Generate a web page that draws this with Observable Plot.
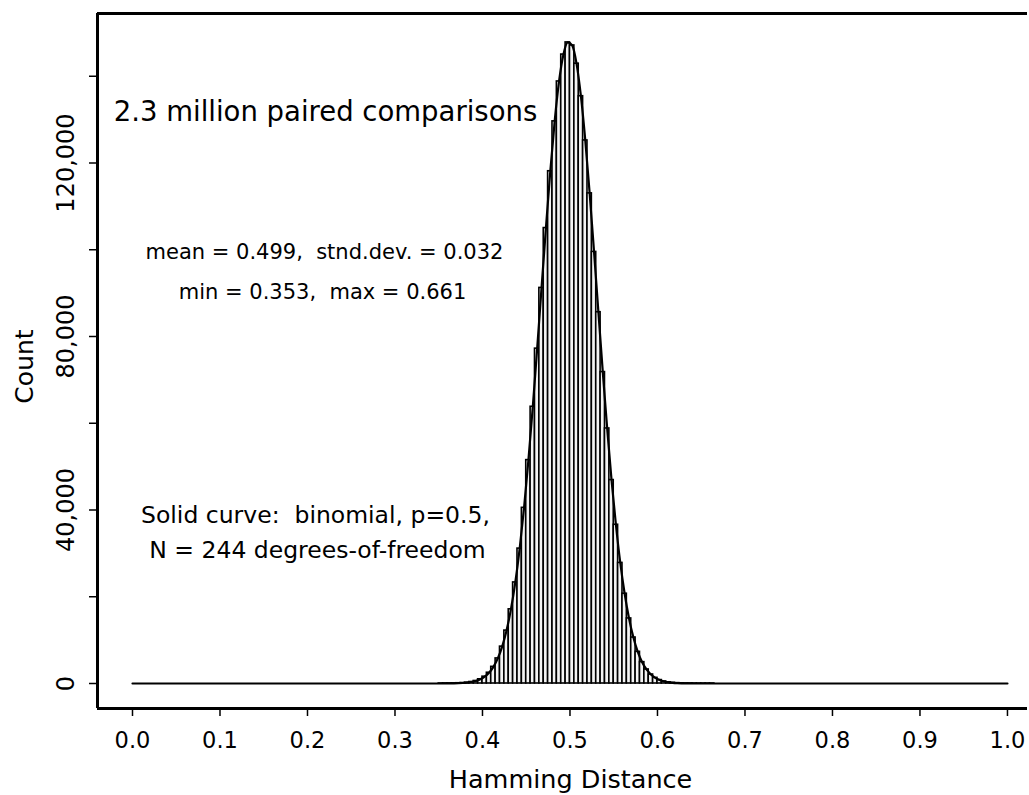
<!DOCTYPE html>
<html>
<head>
<meta charset="utf-8">
<script src="https://cdn.jsdelivr.net/npm/d3@7"></script>
<script src="https://cdn.jsdelivr.net/npm/@observablehq/plot@0.6"></script>
<style>
  html, body { margin: 0; padding: 0; background: #fff; }
  #chart svg { display: block; }
</style>
</head>
<body>
<div id="chart"></div>
<script>
// ---- data ----
const binWidth = 0.005;
const binStart = [
  0.350, 0.355, 0.360, 0.365, 0.370, 0.375, 0.380, 0.385, 0.390, 0.395,
  0.400, 0.405, 0.410, 0.415, 0.420, 0.425, 0.430, 0.435, 0.440, 0.445,
  0.450, 0.455, 0.460, 0.465, 0.470, 0.475, 0.480, 0.485, 0.490, 0.495,
  0.500, 0.505, 0.510, 0.515, 0.520, 0.525, 0.530, 0.535, 0.540, 0.545,
  0.550, 0.555, 0.560, 0.565, 0.570, 0.575, 0.580, 0.585, 0.590, 0.595,
  0.600, 0.605, 0.610, 0.615, 0.620, 0.625, 0.630, 0.635, 0.640, 0.645,
  0.650, 0.655, 0.660
];
const binCount = [
  4, 8, 17, 32, 60, 110, 196, 342, 582, 968,
  1570, 2480, 3840, 5780, 8500, 12200, 17100, 23300, 31100, 40500,
  51500, 63800, 77200, 91200, 105000, 118100, 129600, 138800, 145000, 147800,
  147100, 142900, 135400, 125200, 113000, 99500, 85600, 71800, 58800, 46900,
  36600, 27800, 20700, 15000, 10600, 7300, 4920, 3230, 2070, 1300,
  790, 470, 275, 156, 86, 45, 23, 11, 5, 2,
  1, 1, 1
];
// solid curve (binomial fit) runs along the whole axis from 0.0 to 1.0
const curveEndsX = [0.0, 1.0];
const curveEndsY = [0, 0];

const xTicks = [0.0, 0.1, 0.2, 0.3, 0.4, 0.5, 0.6, 0.7, 0.8, 0.9, 1.0];
const xTickLabels = ["0.0", "0.1", "0.2", "0.3", "0.4", "0.5", "0.6", "0.7", "0.8", "0.9", "1.0"];
const yTicks = [0, 20000, 40000, 60000, 80000, 100000, 120000, 140000];
const yTickLabels = ["0", "", "40,000", "", "80,000", "", "120,000", ""];

const xTitle = "Hamming Distance";
const yTitle = "Count";
const noteTitle = "2.3 million paired comparisons";
const noteStats1 = "mean = 0.499,  stnd.dev. = 0.032";
const noteStats2 = "min = 0.353,  max = 0.661";
const noteFit1 = "Solid curve:  binomial, p=0.5,";
const noteFit2 = "N = 244 degrees-of-freedom";

// ---- tables built from the arrays ----
const bins = binStart.map((s, i) => ({x1: s, x2: s + binWidth, count: binCount[i]}));
const curve = [
  {x: curveEndsX[0], y: curveEndsY[0]},
  ...bins.map(b => ({x: (b.x1 + b.x2) / 2, y: b.count})),
  {x: curveEndsX[1], y: curveEndsY[1]}
];
const xLabelMap = new Map(xTicks.map((t, i) => [t, xTickLabels[i]]));
const yLabelMap = new Map(yTicks.map((t, i) => [t, yTickLabels[i]]));

const xDomain = [-0.04, 1.0229];
const yDomain = [-5764, 154467];

const chart = Plot.plot({
  width: 1029,
  height: 795,
  marginLeft: 97,
  marginRight: 2,
  marginTop: 13,
  marginBottom: 87,
  x: {domain: xDomain},
  y: {domain: yDomain},
  style: {fontFamily: "'DejaVu Sans', sans-serif", background: "#fff", color: "#000", overflow: "visible"},
  marks: [
    Plot.rectY(bins, {x1: "x1", x2: "x2", y: "count", fill: "#f4f4f4", stroke: "#000", strokeWidth: 1.6}),
    Plot.line(curve, {x: "x", y: "y", curve: "monotone-x", stroke: "#000", strokeWidth: 2.2}),
    Plot.ruleX([xDomain[0]], {stroke: "#000", strokeWidth: 3}),
    Plot.ruleY([yDomain[0], yDomain[1]], {stroke: "#000", strokeWidth: 3}),
    Plot.axisX({ticks: xTicks, tickFormat: d => xLabelMap.get(d), tickSize: 8, tickPadding: 16,
      fontSize: 22.5, label: null, strokeWidth: 1.5}),
    Plot.axisY({ticks: yTicks, tickFormat: d => yLabelMap.get(d), tickSize: 8, tickPadding: 16,
      tickRotate: -90, fontSize: 24, label: null, strokeWidth: 1.5}),
    Plot.text([yTitle], {frameAnchor: "left", dx: -73, dy: 5.5, rotate: -90, textAnchor: "middle", fontSize: 25}),
    Plot.text([xTitle], {frameAnchor: "bottom-left", dx: 473, dy: 79, textAnchor: "middle", lineAnchor: "bottom", fontSize: 25.5}),
    Plot.text([noteTitle], {frameAnchor: "top-left", dx: 228, dy: 107, textAnchor: "middle", lineAnchor: "bottom", fontSize: 27.5}),
    Plot.text([noteStats1], {frameAnchor: "top-left", dx: 227, dy: 245, textAnchor: "middle", lineAnchor: "bottom", fontSize: 21}),
    Plot.text([noteStats2], {frameAnchor: "top-left", dx: 225, dy: 285, textAnchor: "middle", lineAnchor: "bottom", fontSize: 21}),
    Plot.text([noteFit1], {frameAnchor: "top-left", dx: 218, dy: 509, textAnchor: "middle", lineAnchor: "bottom", fontSize: 23.5}),
    Plot.text([noteFit2], {frameAnchor: "top-left", dx: 220, dy: 544, textAnchor: "middle", lineAnchor: "bottom", fontSize: 23.5})
  ]
});
document.getElementById("chart").appendChild(chart);
</script>
</body>
</html>
